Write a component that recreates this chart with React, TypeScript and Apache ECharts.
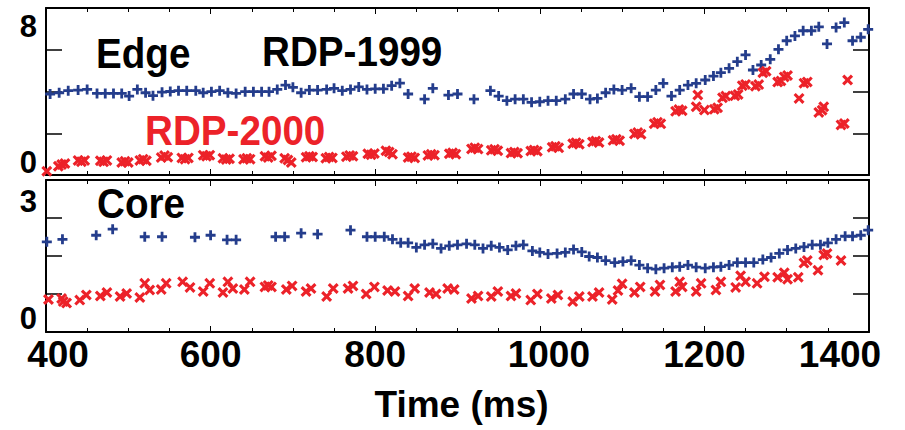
import React, { useEffect, useRef } from 'react';
import * as echarts from 'echarts';

const BLUE = '#243d8c';
const RED = '#ec2229';
const FONT = '"Liberation Sans", Arial, Helvetica, sans-serif';

// x tick labels (ms) and y end labels
const xTickLabels = [400, 600, 800, 1000, 1200, 1400];
const edgeYRange = [0, 8];
const coreYRange = [0, 3];

// Edge, RDP-1999 (blue +)
const edge1999 = [
  [405,3.88],[416,3.94],[427,4.04],[439,4.07],[450,4.1],[462,3.91],[472,3.91],[482,3.91],[492,3.91],[501,3.78],
  [511,4.1],[521,3.94],[530,3.8],[541,3.97],[551,4.0],[561,4.04],[571,4.04],[582,4.04],[591,3.94],[601,3.99],
  [611,4.04],[621,3.94],[631,3.91],[642,3.99],[652,3.99],[662,3.99],[671,3.99],[681,4.1],[691,4.31],[700,4.2],
  [710,3.94],[720,4.07],[730,4.07],[741,4.1],[750,4.15],[760,4.04],[770,4.1],[780,4.22],[790,4.1],[800,4.13],
  [810,4.13],[820,4.28],[830,4.4],[840,3.88],[860,3.63],[870,4.15],[889,3.83],[900,3.88],[920,3.63],[940,4.04],
  [950,3.78],[960,3.56],[970,3.63],[980,3.63],[990,3.48],[1000,3.51],[1010,3.56],[1020,3.56],[1031,3.63],[1041,3.88],
  [1051,3.88],[1061,3.63],[1070,3.67],[1080,3.94],[1090,4.1],[1100,4.07],[1111,4.15],[1121,3.75],[1131,3.75],[1141,4.07],
  [1150,4.39],[1160,3.78],[1170,4.07],[1180,4.31],[1190,4.39],[1201,4.55],[1211,4.74],[1220,4.9],[1230,5.11],[1240,5.43],
  [1250,5.75],[1259,5.03],[1269,5.27],[1280,5.54],[1290,6.02],[1300,6.43],[1310,6.66],[1320,6.91],[1330,6.91],[1339,7.1],
  [1349,6.28],[1360,7.07],[1370,7.3],[1380,6.43],[1390,6.6],[1399,6.98]
];

// Edge, RDP-2000 (red x)
const edge2000 = [
  [401,0.18],
  [415,0.42],[419,0.5],[423,0.55],
  [439,0.7],[443,0.64],[447,0.7],
  [466,0.68],[470,0.63],[474,0.7],
  [492,0.6],[496,0.66],[500,0.6],
  [514,0.7],[518,0.76],[522,0.68],
  [540,0.84],[544,0.93],[548,0.85],
  [565,0.82],[569,0.76],[573,0.82],
  [591,0.95],[595,0.9],[599,0.95],
  [615,0.8],[619,0.74],[623,0.78],
  [640,0.75],[644,0.8],[648,0.76],
  [666,0.9],[670,0.84],[674,0.92],
  [690,0.8],[694,0.72],[698,0.6],
  [716,0.85],[720,0.9],[724,0.86],
  [740,0.8],[744,0.86],[748,0.82],
  [765,0.88],[769,0.94],[773,0.9],
  [791,1.02],[795,0.97],[799,1.03],
  [813,1.16],[817,1.1],[821,1.0],
  [840,0.84],[844,0.88],[848,0.82],
  [864,0.94],[868,0.99],[872,0.95],
  [890,1.02],[894,1.06],[898,1.0],
  [917,1.25],[921,1.31],[925,1.24],
  [941,1.18],[945,1.23],[949,1.16],
  [965,1.05],[969,1.1],[973,1.04],
  [989,1.15],[993,1.2],[997,1.14],
  [1015,1.33],[1019,1.38],[1023,1.3],
  [1040,1.5],[1044,1.55],[1048,1.47],
  [1064,1.58],[1068,1.63],[1072,1.56],
  [1089,1.66],[1093,1.71],[1097,1.64],
  [1115,1.97],[1119,2.03],[1123,1.95],
  [1139,2.46],[1143,2.53],[1147,2.45],
  [1165,3.05],[1169,3.14],[1173,3.08],
  [1190,3.27],[1192,3.83],[1200,3.11],
  [1212,3.15],[1216,3.22],[1222,3.7],[1226,3.78],
  [1237,3.8],[1241,3.86],[1246,4.28],[1250,4.34],
  [1262,4.25],[1266,4.33],[1271,4.9],[1275,4.97],
  [1289,4.45],[1293,4.5],[1297,4.7],[1301,4.77],
  [1315,3.67],[1321,4.4],[1325,4.46],
  [1339,3.0],[1343,3.1],[1345,3.27],
  [1366,2.4],[1370,2.47],[1374,4.55]
];

// Core, RDP-1999 (blue +)
const core1999 = [
  [401,1.78],[420,1.83],[461,1.91],[481,2.03],[520,1.88],[541,1.88],[581,1.87],[600,1.91],[620,1.82],[631,1.82],
  [679,1.88],[690,1.88],[710,1.95],[730,1.93],[770,2.01],[790,1.88],[800,1.88],[811,1.88],[821,1.83],[831,1.76],
  [840,1.76],[850,1.67],[860,1.72],[870,1.74],[880,1.65],[890,1.7],[900,1.72],[911,1.74],[921,1.72],[931,1.65],
  [941,1.7],[951,1.67],[961,1.62],[971,1.7],[980,1.72],[991,1.6],[1000,1.57],[1010,1.54],[1021,1.55],[1031,1.57],
  [1041,1.63],[1051,1.58],[1060,1.49],[1070,1.47],[1080,1.41],[1091,1.37],[1101,1.39],[1111,1.41],[1121,1.32],[1131,1.26],
  [1141,1.24],[1151,1.26],[1161,1.28],[1170,1.29],[1180,1.32],[1190,1.28],[1201,1.26],[1211,1.28],[1220,1.29],[1230,1.32],
  [1240,1.37],[1250,1.37],[1260,1.37],[1271,1.43],[1281,1.47],[1291,1.55],[1301,1.62],[1311,1.65],[1321,1.68],[1331,1.72],
  [1341,1.72],[1350,1.76],[1360,1.83],[1371,1.89],[1380,1.89],[1390,1.91],[1399,2.01]
];

// Core, RDP-2000 (red x)
const core2000 = [
  [403,0.64],[419,0.66],[421,0.6],[425,0.57],[441,0.63],[449,0.73],[466,0.71],[474,0.78],[490,0.7],[498,0.76],
  [514,0.68],[520,0.96],[526,0.83],[540,0.84],[546,0.96],[566,0.99],[575,0.88],[591,0.8],[599,0.96],[615,0.78],
  [621,0.99],[627,0.86],[641,0.84],[648,0.99],[666,0.89],[670,0.92],[674,0.89],[692,0.84],[699,0.91],[716,0.8],
  [722,0.86],[741,0.7],[749,0.86],[767,0.86],[773,0.91],[789,0.75],[799,0.89],[815,0.82],[824,0.8],[840,0.71],
  [848,0.86],[866,0.78],[874,0.75],[888,0.86],[896,0.84],[917,0.66],[925,0.71],[941,0.7],[949,0.8],[965,0.71],
  [971,0.76],[989,0.63],[997,0.75],[1014,0.66],[1022,0.73],[1040,0.6],[1048,0.7],[1064,0.7],[1072,0.78],[1088,0.64],
  [1095,0.82],[1100,0.95],[1115,0.78],[1122,0.89],[1140,0.8],[1146,0.93],[1165,0.8],[1170,0.99],[1173,0.89],[1190,0.8],
  [1196,0.96],[1214,0.83],[1220,0.99],[1238,0.88],[1244,1.11],[1250,0.99],[1264,0.96],[1273,1.09],[1289,1.08],[1297,1.17],
  [1301,1.04],[1314,1.08],[1321,1.36],[1325,1.41],[1338,1.22],[1345,1.52],[1349,1.55],[1366,1.41]
];

// label horizontal nudges (px) to mimic the original placement
const xLabelShift: Record<number, number> = { 400: 12, 1000: 9, 1400: -29 };
const X_LABEL_SIZE = 37;
const DIGIT_W = 0.556 * X_LABEL_SIZE;

const PLUS = 'path://M3.6,0h2.8v3.6h3.6v2.8h-3.6v3.6h-2.8v-3.6h-3.6v-2.8h3.6z';
const CROSS = 'path://M0,2L2,0L5,3L8,0L10,2L7,5L10,8L8,10L5,7L2,10L0,8L3,5Z';

function buildOption() {
  const xRich: Record<string, any> = {};
  xTickLabels.forEach((v) => {
    const s = xLabelShift[v] || 0;
    const w = String(v).length * DIGIT_W + 2 * Math.abs(s);
    xRich['x' + v] = {
      fontSize: X_LABEL_SIZE, fontWeight: 'bold', fontFamily: FONT, color: '#000',
      width: w,
      align: s > 0 ? 'right' : s < 0 ? 'left' : 'center',
    };
  });

  const xAxis = (gridIndex: number, position: string, labels: boolean) => ({
    type: 'value', gridIndex, position,
    min: xTickLabels[0], max: xTickLabels[xTickLabels.length - 1], interval: 200,
    axisLine: { show: true, onZero: false, lineStyle: { color: '#000', width: 2 } },
    axisTick: { show: true, inside: true, length: 6, lineStyle: { color: '#000', width: 1 } },
    minorTick: { show: true, splitNumber: 4, length: 4, lineStyle: { color: '#000', width: 1 } },
    splitLine: { show: false },
    minorSplitLine: { show: false },
    axisLabel: labels
      ? {
          show: true, margin: 4, showMinLabel: true, showMaxLabel: true,
          formatter: (v: number) => (xTickLabels.indexOf(v) >= 0 ? `{x${v}|${v}}` : ''),
          rich: xRich,
        }
      : { show: false },
    ...(labels
      ? {
          name: 'Time (ms)', nameLocation: 'middle', nameGap: 54,
          nameTextStyle: { fontSize: 37, fontWeight: 'bold', fontFamily: FONT, color: '#000', padding: [0, 0, 0, 8] },
        }
      : {}),
  });

  const yAxis = (gridIndex: number, position: string, range: number[], interval: number, labels: boolean, padHi: number, padLo: number) => ({
    type: 'value', gridIndex, position, min: range[0], max: range[1], interval,
    axisLine: { show: true, onZero: false, lineStyle: { color: '#000', width: 2 } },
    axisTick: { show: true, inside: true, length: 16, lineStyle: { color: '#000', width: 1.5 } },
    splitLine: { show: false },
    axisLabel: labels
      ? {
          show: true, margin: 9, showMinLabel: true, showMaxLabel: true,
          formatter: (v: number) => (v === range[1] ? `{hi|${v}}` : v === range[0] ? `{lo|${v}}` : ''),
          rich: {
            hi: { fontSize: 31, fontWeight: 'bold', fontFamily: FONT, color: '#000', padding: [padHi, 0, 0, 0] },
            lo: { fontSize: 31, fontWeight: 'bold', fontFamily: FONT, color: '#000', padding: [0, 0, padLo, 0] },
          },
        }
      : { show: false },
  });

  const txt = (text: string, x: number, y: number, color: string) => ({
    type: 'text', x, y, scaleX: 0.92, z: 10,
    style: { text, fill: color, fontSize: 42, fontWeight: 'bold', fontFamily: FONT, align: 'left', verticalAlign: 'middle' },
  });

  const scatter = (name: string, axis: number, data: number[][], symbol: string, size: number, color: string) => ({
    type: 'scatter', name, xAxisIndex: axis, yAxisIndex: axis, data, symbol, symbolSize: size,
    itemStyle: { color, opacity: 1 }, silent: true,
  });

  return {
    animation: false,
    backgroundColor: '#fff',
    grid: [
      { left: 46, right: 36, top: 8, height: 167 },
      { left: 46, right: 36, top: 180, height: 152 },
    ],
    xAxis: [
      xAxis(0, 'bottom', false),
      xAxis(0, 'top', false),
      xAxis(1, 'bottom', true),
      xAxis(1, 'top', false),
    ],
    yAxis: [
      yAxis(0, 'left', edgeYRange, 2, true, 36, 26),
      yAxis(0, 'right', edgeYRange, 2, false, 0, 0),
      yAxis(1, 'left', coreYRange, 0.75, true, 42, 28),
      yAxis(1, 'right', coreYRange, 0.75, false, 0, 0),
    ],
    series: [
      scatter('Edge RDP-1999', 0, edge1999, PLUS, 10, BLUE),
      scatter('Edge RDP-2000', 0, edge2000, CROSS, 11, RED),
      scatter('Core RDP-1999', 2, core1999, PLUS, 10, BLUE),
      scatter('Core RDP-2000', 2, core2000, CROSS, 11, RED),
    ],
    graphic: [
      txt('Edge', 96, 53, '#000'),
      txt('RDP-1999', 262, 51, '#000'),
      txt('RDP-2000', 145, 130, RED),
      txt('Core', 97, 203, '#000'),
    ],
  };
}

export default function App() {
  const ref = useRef<HTMLDivElement>(null);
  useEffect(() => {
    if (!ref.current) return;
    const chart = echarts.init(ref.current, undefined, { renderer: 'svg' });
    chart.setOption(buildOption() as any);
    return () => chart.dispose();
  }, []);
  return (
    <div
      ref={ref}
      style={{ position: 'fixed', left: 0, top: 0, width: 905, height: 430, background: '#fff' }}
    />
  );
}
